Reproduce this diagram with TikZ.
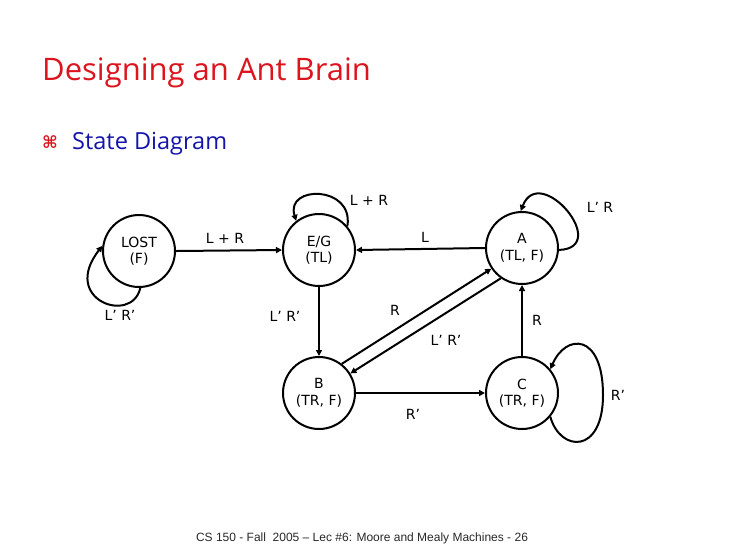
\documentclass[tikz,border=0pt]{standalone}
\usepackage{fontspec}
\setmainfont{DejaVu Sans}
\newfontfamily\titlefont{Open Sans}
\newfontfamily\footfont{Liberation Sans}
\usetikzlibrary{arrows.meta}
\definecolor{titlered}{RGB}{220,20,30}
\definecolor{subblue}{RGB}{20,20,170}
\definecolor{footgray}{RGB}{40,40,40}
\begin{document}
\begin{tikzpicture}[x=1pt,y=-1pt,
  state/.style={draw=black,line width=2pt,circle,minimum size=72pt,inner sep=0pt,align=center,font=\fontsize{14}{16.5}\selectfont},
  conn/.style={line width=2pt},
  arr/.style={conn,-{Triangle[length=6pt,width=6pt]}},
  lbl/.style={font=\fontsize{14}{16}\selectfont,inner sep=0pt}]
\useasboundingbox (0,0) rectangle (730,547);
% titles
\node[anchor=base west,inner sep=0pt,text=titlered,font=\titlefont\fontsize{31}{35}\selectfont] (title) at (42,80) {Designing an Ant Brain};
\node[anchor=base west,inner sep=0pt,text=titlered,font=\bfseries\fontsize{17}{20}\selectfont] (bul) at (42,148) {⌘};
\node[anchor=base west,inner sep=0pt,text=subblue,font=\titlefont\fontsize{23.5}{27}\selectfont] (sub) at (72,149) {State Diagram};
\node[anchor=base,inner sep=0pt,text=footgray,font=\footfont\fontsize{12}{14}\selectfont] (foot) at (362,541) {CS 150 - Fall\ \ 2005 – Lec \#6: Moore and Mealy Machines - 26};
% states
\node[state] (lost) at (139,251) {LOST\\(F)};
\node[state] (eg) at (319,250) {E/G\\(TL)};
\node[state] (a) at (522,248) {A\\(TL, F)};
\node[state] (b) at (319,393) {B\\(TR, F)};
\node[state] (c) at (522,393) {C\\(TR, F)};
% transitions
\draw[arr] (lost.east) -- (eg.west);
\draw[arr] (a.west) -- (eg.east);
\draw[arr] (eg.south) -- (b.north);
\draw[arr] (c.north) -- (a.south);
\draw[arr] (b.east) -- (c.west);
\draw[arr] (b.52) -- (a.214);
\draw[arr] (a.235) -- (b.32);
% self loops
\draw[arr] (lost.-88) .. controls (132,325) and (60,300) .. (lost.172);
\draw[arr] (eg.40) .. controls (354,185) and (285,185) .. (eg.128);
\draw[arr] (a.-3) .. controls (612,248) and (540,162) .. (a.92);
\draw[arr] (c.-40) .. controls (560,452) and (603,455) .. (603,395)
  .. controls (603,333) and (566,333) .. (c.40);
% labels
\node[lbl] (l1) at (225,238) {L + R};
\node[lbl] (l2) at (369,200) {L + R};
\node[lbl] (l3) at (425,237) {L};
\node[lbl] (l4) at (600,207) {L’ R};
\node[lbl] (l5) at (120,315) {L’ R’};
\node[lbl] (l6) at (285,316) {L’ R’};
\node[lbl] (l7) at (395,310) {R};
\node[lbl] (l8) at (537,320) {R};
\node[lbl] (l9) at (446,340) {L’ R’};
\node[lbl] (l10) at (413,414) {R’};
\node[lbl] (l11) at (618,395) {R’};
\end{tikzpicture}
\end{document}
